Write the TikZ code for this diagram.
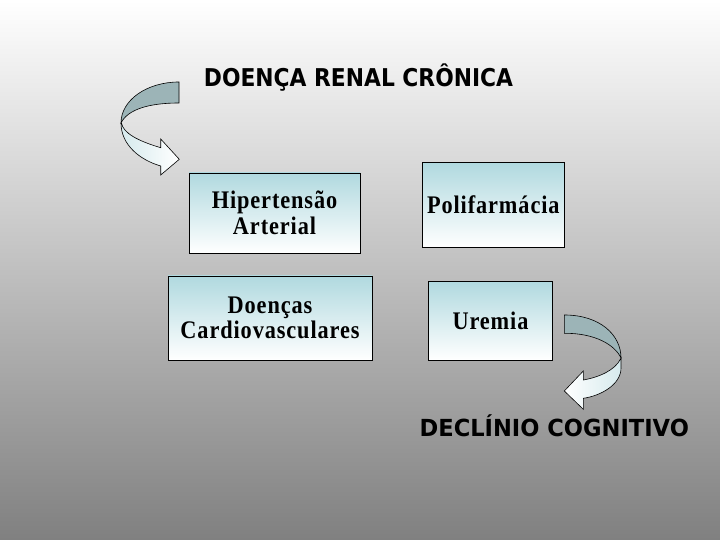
\documentclass[tikz,border=0pt]{standalone}
\usepackage{fontspec}
\setmainfont{Liberation Serif}[LetterSpace=4]
\newfontfamily\headfont{DejaVu Sans}
\newcommand{\tallline}[1]{\scalebox{0.97}[1.1]{#1}}
\definecolor{bgtop}{RGB}{255,255,255}
\definecolor{bgbot}{RGB}{128,128,128}
\definecolor{boxtop}{RGB}{176,217,223}
\definecolor{boxmid}{RGB}{220,239,241}
\definecolor{backband}{RGB}{156,180,183}
\definecolor{frontband}{RGB}{214,234,237}
\tikzset{
  infobox/.style={draw=black, line width=0.8pt, inner sep=0pt, align=center,
    top color=boxtop, middle color=boxmid, bottom color=white,
    font=\fontsize{23}{25.5}\selectfont\bfseries},
  heading/.style={anchor=base, inner sep=0pt, font=\headfont\bfseries},
  backpart/.style={draw=black, line width=0.6pt, fill=backband},
  frontpart/.style={draw=black, line width=0.6pt}
}
\begin{document}
\begin{tikzpicture}[x=1pt,y=1pt]
\shade[top color=bgtop, bottom color=bgbot] (0,0) rectangle (720,540);
\useasboundingbox (0,0) rectangle (720,540);

% headings
\node[heading] (title) at (358.5,453.7) {\fontsize{24.5}{28}\selectfont\scalebox{0.89}[1]{DOENÇA RENAL CRÔNICA}};
\node[heading] (decl) at (554.3,103.3) {\fontsize{23.5}{27}\selectfont\scalebox{0.96}[1]{DECLÍNIO COGNITIVO}};

% boxes
\node[infobox, minimum width=171pt, minimum height=80pt] (hip) at (274.5,327) {\tallline{Hipertensão}\\\tallline{Arterial}};
\node[infobox, minimum width=142pt, minimum height=84.6pt] (pol) at (493.3,335) {\tallline{Polifarmácia}};
\node[infobox, minimum width=204pt, minimum height=84pt] (doe) at (270,222) {\tallline{Doenças}\\\tallline{Cardiovasculares}};
\node[infobox, minimum width=123.6pt, minimum height=78.7pt] (ure) at (490.5,219.4) {\tallline{Uremia}};

% left curved arrow
\draw[backpart] (179,458) .. controls (147,458) and (121,440) .. (121,417)
  .. controls (128,431) and (150,437) .. (179,437) -- cycle;
\draw[frontpart, left color=frontband, right color=white]
  (121,417) .. controls (121,395) and (140,380) .. (160.7,374)
  -- (160.7,365) -- (179.3,380.7) -- (160.7,401) -- (160.7,392.3)
  .. controls (138,399) and (123,407) .. (121.5,417) -- cycle;

% right curved arrow
\draw[backpart] (564.3,225) .. controls (600,225) and (621,205) .. (621,182)
  .. controls (615,195) and (595,207) .. (564.3,206.7) -- cycle;
\draw[frontpart, left color=white, right color=frontband]
  (621,182) -- (621,172) .. controls (621,155) and (600,144) .. (583.3,141.7)
  -- (583.3,130.7) -- (564.3,149) -- (583.3,169) -- (583.3,160)
  .. controls (600,163) and (615,170) .. (620.5,181) -- cycle;
\end{tikzpicture}
\end{document}
